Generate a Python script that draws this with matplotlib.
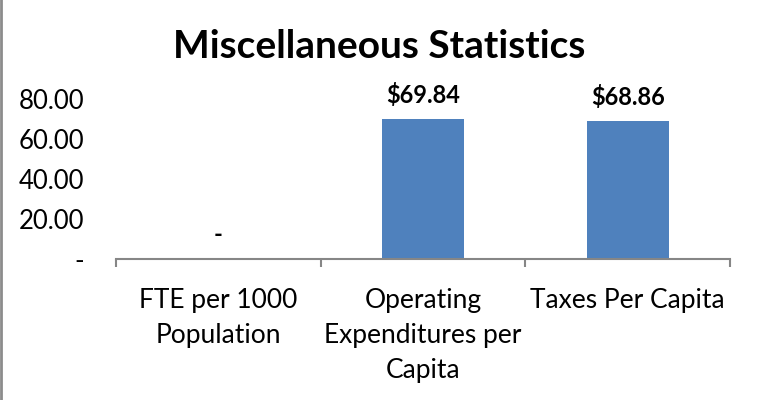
import matplotlib
matplotlib.use("Agg")
import matplotlib.pyplot as plt
from matplotlib.lines import Line2D

plt.rcParams['font.family'] = ['Lato', 'DejaVu Sans']

categories = ["FTE per 1000\nPopulation", "Operating\nExpenditures per\nCapita", "Taxes Per Capita"]
values = [0.0, 69.84, 68.86]
yticks = [0, 20, 40, 60, 80]
ytick_labels = ["-", "20.00", "40.00", "60.00", "80.00"]
title = "Miscellaneous Statistics"

bar_color = "#4F81BD"
axis_color = "#868686"

fig = plt.figure(figsize=(7.58, 4.0), dpi=100)
ax = fig.add_axes([116/758, 141/400, 614/758, 160/400])

x = list(range(len(categories)))
bars = ax.bar(x, values, width=0.40, color=bar_color, zorder=2)
ax.set_xlim(-0.5, len(categories) - 0.5)
ax.set_ylim(0, 80)

labels = [f"${v:.2f}" if v else "-" for v in values]
ax.bar_label(bars, labels=labels, padding=9, fontsize=17, fontweight='bold', clip_on=False)

for s in ['top', 'right', 'left']:
    ax.spines[s].set_visible(False)
ax.spines['bottom'].set_color(axis_color)
ax.spines['bottom'].set_linewidth(1.5)

ax.set_yticks(yticks)
ax.set_yticklabels(ytick_labels, fontsize=18.5)
ax.tick_params(axis='y', length=0, pad=23)

ax.set_xticks([i - 0.5 for i in range(len(categories) + 1)], minor=False)
ax.set_xticklabels([])
ax.tick_params(axis='x', which='major', length=5.5, width=1.5, color=axis_color, direction='out')
ax.set_xticks(x, minor=True)
ax.set_xticklabels(categories, minor=True, fontsize=19, linespacing=1.5)
ax.tick_params(axis='x', which='minor', length=0, pad=21)

fig.text(379/758, 1 - 47/400, title, ha='center', va='center', fontsize=28, fontweight='bold')

fig.add_artist(Line2D([0.0015, 0.0015], [0, 1], transform=fig.transFigure, color="#8c8c8c", linewidth=2))

fig.savefig("out.png", dpi=100, facecolor='white')
